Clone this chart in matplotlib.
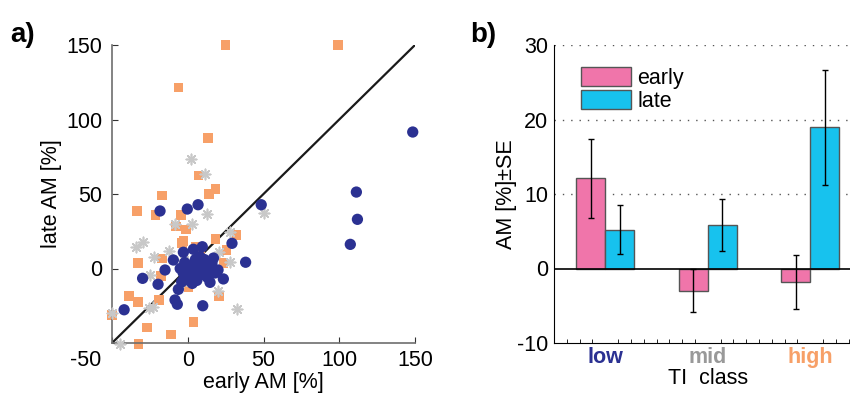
import matplotlib
matplotlib.use("Agg")
import matplotlib.pyplot as plt
import numpy as np
from matplotlib.ticker import MultipleLocator

plt.rcParams['font.family'] = ['Liberation Sans', 'DejaVu Sans']
plt.rcParams['axes.unicode_minus'] = False

# ---- panel a data ----
low_x = [48.5, 6.8, -0.3, -18.3, 148.5, 111.3, 112, 107.3, -2.9, 3.7, 9.6, 29.2, -9.5, 38.2,
         -15, -29.8, -19.6, 23.5, 14.7, -6.2, -8.4, -6.9, 9.9, -42,
         -5, -3, 0, 2, 4, 5, 7, 8, 10, 12, 13, 15, 16, 18, 1, 3, 6, -1, -4, 11, 17, 20, -2, 5, 8]
low_y = [42.8, 42.8, 39.9, 38.6, 91.6, 51.3, 33, 16.2, 10.9, 12.9, 14.6, 16.9, 5.7, 4.2,
         -1, -6.6, -10.6, -7, -9.3, -14, -21.1, -24, -25, -27.7,
         0, -3, 2, -2, 0, -5, 3, -1, -4, 2, -6, 0, 4, -3, -8, -10, -8, -6, -9, 6, 7, -1, 4, 6, 8]

mid_x = [2.1, 11.6, 50.5, 12.5, -8.2, 2.8, -29.8, -34.4, -12.2, 20.6, -22.3, -2.5, 27.9,
         -24.9, 20.2, -22.7, -25.4, 32.3, -50, -44.7, 27.9, -3, 10]
mid_y = [73.7, 63.4, 37.0, 36.6, 29.9, 29.9, 17.8, 14.6, 11.7, 11.3, 7.5, 5.5, 4.4,
         -4.4, -14.8, -25.6, -26.3, -27.4, -30, -50.7, 24.7, -8.8, -3]

high_x = [25, 99, -6.2, 13.2, 7, 18.4, 14.2, -16.8, -33.7, -21.4, -4.5, -7.8, -1.2, -2.9, -4,
          18.4, 32.3, 25.7, -17.2, -33, 23.5, -17.7, 0.4, 20.6, -38.6, -33, -18.8, -50, -27,
          3.7, -10.9, -32.6, 5.4, 8]
high_y = [150, 150, 121.6, 87.4, 62.3, 53.4, 49.8, 48.9, 38.6, 35.7, 36.1, 28.1, 26.3, 18.3, 17,
          19.8, 22.3, 12.4, 6.8, 3.7, 3.5, -5, -12.6, -18.5, -18.3, -22.3, -21.1, -31.4, -39.5,
          -35.7, -44.2, -50.7, 14.6, 10]

ticks_a = [-50, 0, 50, 100, 150]

# ---- panel b data ----
classes = ['low', 'mid', 'high']
early = [12.1, -3.0, -1.8]
late = [5.2, 5.8, 19.0]
early_err_lo = [6.8, -5.9, -5.4]
early_err_hi = [17.4, -0.1, 1.8]
late_err_lo = [1.9, 2.3, 11.2]
late_err_hi = [8.5, 9.3, 26.7]
ticks_b = [-10, 0, 10, 20, 30]

c_low = '#2B3192'
c_mid = '#C8C8C8'
c_high = '#F7A068'
c_early = '#F075AA'
c_late = '#17C2EE'
FS = 15.5

fig = plt.figure(figsize=(8.5, 3.98), dpi=100)

# ===== panel a =====
ax = fig.add_axes([112/850, 55/398, 303/850, 298/398])
ax.plot([ticks_a[0], ticks_a[-1]], [ticks_a[0], ticks_a[-1]], color='#1a1a1a', lw=1.6, zorder=1)
ax.scatter(high_x, high_y, marker='s', s=48, color=c_high, edgecolors='none', zorder=2, clip_on=False)
ax.scatter(mid_x, mid_y, marker=(8, 2, 0), s=55, color=c_mid, linewidths=1.2, zorder=3, clip_on=False)
ax.scatter(low_x, low_y, marker='o', s=66, color=c_low, edgecolors='none', zorder=4, clip_on=False)
ax.set_xlim(ticks_a[0], ticks_a[-1])
ax.set_ylim(ticks_a[0], ticks_a[-1])
ax.set_xticks(ticks_a)
ax.set_yticks(ticks_a)
ax.set_xticklabels([''] + [str(t) for t in ticks_a[1:]])
ax.set_yticklabels([''] + [str(t) for t in ticks_a[1:]])
# shared corner label, as in the original
ax.annotate(str(ticks_a[0]), xy=(ticks_a[0], ticks_a[0]), xytext=(-26, -18),
            textcoords='offset pixels', ha='center', va='center', fontsize=FS,
            annotation_clip=False)
for s in ['top', 'right']:
    ax.spines[s].set_visible(False)
for s in ['left', 'bottom']:
    ax.spines[s].set_color('#6e6e6e')
    ax.spines[s].set_linewidth(1.2)
ax.tick_params(direction='in', length=4, labelsize=FS, color='#333333')
ax.tick_params(axis='y', pad=7)
ax.tick_params(axis='x', pad=5)
ax.set_xlabel('early AM [%]', fontsize=FS, labelpad=1)
ax.set_ylabel('late AM [%]', fontsize=FS, labelpad=3)
fig.text(10/850, 1 - 42/398, 'a)', fontsize=20, fontweight='bold')

# ===== panel b =====
bx = fig.add_axes([554/850, 55/398, 307.5/850, 298/398])
x = np.arange(1, len(classes) + 1)
w = 0.285
bx.bar(x - w/2, early, w, color=c_early, edgecolor='#555555', linewidth=1, label='early', zorder=3)
bx.bar(x + w/2, late, w, color=c_late, edgecolor='#555555', linewidth=1, label='late', zorder=3)
e = np.array(early); l = np.array(late)
bx.errorbar(x - w/2, e, yerr=[e - np.array(early_err_lo), np.array(early_err_hi) - e],
            fmt='none', ecolor='black', elinewidth=1, capsize=2.5, zorder=4)
bx.errorbar(x + w/2, l, yerr=[l - np.array(late_err_lo), np.array(late_err_hi) - l],
            fmt='none', ecolor='black', elinewidth=1, capsize=2.5, zorder=4)
bx.axhline(0, color='black', lw=1.2, zorder=5)
bx.set_xlim(0.5, 3.5)
bx.set_ylim(ticks_b[0], ticks_b[-1])
bx.set_yticks(ticks_b)
for yv in ticks_b[2:]:
    bx.axhline(yv, color='#555555', lw=1, ls=(0, (1, 5)), zorder=1)
bx.set_xticks(x)
bx.set_xticklabels(classes, fontsize=FS, fontweight='bold')
for t, c in zip(bx.get_xticklabels(), [c_low, '#999999', c_high]):
    t.set_color(c)
bx.xaxis.set_minor_locator(MultipleLocator(0.125))
for s in ['top', 'right']:
    bx.spines[s].set_visible(False)
bx.tick_params(axis='x', which='major', length=0, pad=3)
bx.tick_params(axis='x', which='minor', direction='in', length=3)
bx.tick_params(axis='y', direction='in', length=0, labelsize=FS, pad=4)
bx.set_xlabel('TI  class', fontsize=FS, labelpad=0)
bx.set_ylabel('AM [%]±SE', fontsize=FS, labelpad=0)
bx.legend(loc='upper left', bbox_to_anchor=(0.06, 0.955), frameon=False, fontsize=FS,
          handlelength=2.3, handleheight=1.0, handletextpad=0.3, labelspacing=0.05,
          borderaxespad=0)
fig.text(470/850, 1 - 42/398, 'b)', fontsize=20, fontweight='bold')

fig.savefig('out.png', dpi=100)
